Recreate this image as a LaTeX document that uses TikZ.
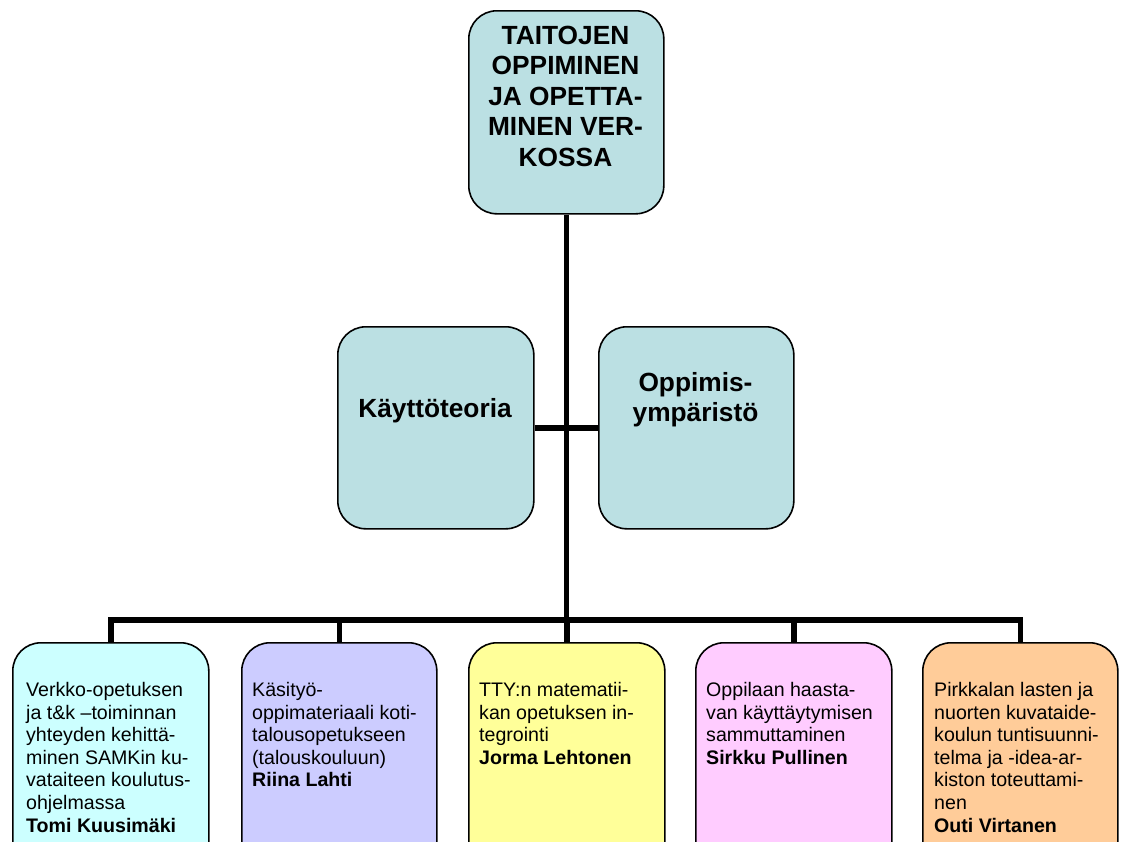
\documentclass[tikz,border=0pt]{standalone}
\usepackage{fontspec}
\setmainfont{Liberation Sans}
\definecolor{teallight}{HTML}{BBE0E3}
\definecolor{cyanlight}{HTML}{CCFFFF}
\definecolor{lavender}{HTML}{CCCCFF}
\definecolor{lemon}{HTML}{FFFF99}
\definecolor{pinklight}{HTML}{FFCCFF}
\definecolor{apricot}{HTML}{FFCC99}
\begin{document}
\begin{tikzpicture}[x=1pt,y=-1pt,
  box/.style={draw=black, line width=1.6pt, rounded corners=28pt, inner sep=0pt,
              anchor=north west},
  bigbox/.style={box, minimum width=195pt, minimum height=203pt},
  leafbox/.style={box, minimum width=196pt, minimum height=230pt},
  link/.style={line width=5.5pt, line join=miter},
  head/.style={font=\fontsize{26.3}{30.5}\selectfont\bfseries, align=center, inner sep=0pt},
  body/.style={font=\fontsize{19.6}{22.6}\selectfont, align=left, inner sep=0pt,
               anchor=north west}]
\useasboundingbox (0,0) rectangle (1121,841);
\clip (0,0) rectangle (1121,841);

% boxes
\node[bigbox, fill=teallight] (top) at (468,10) {};
\node[bigbox, fill=teallight, minimum width=196pt, minimum height=202pt] (theory) at (337,326) {};
\node[bigbox, fill=teallight, minimum width=195pt, minimum height=202pt] (env) at (598,326) {};

\node[leafbox, fill=cyanlight] (p1) at (12,642) {};
\node[leafbox, fill=lavender, minimum width=195pt] (p2) at (241,642) {};
\node[leafbox, fill=lemon] (p3) at (468,642) {};
\node[leafbox, fill=pinklight] (p4) at (695,642) {};
\node[leafbox, fill=apricot, minimum width=195pt] (p5) at (922,642) {};

% connectors
\coordinate (hub) at (top.south |- 0,620);
\draw[link] (top.south) -- (hub);
\draw[link] (theory.east) -- (env.west);
\foreach \p in {p1,p2,p3,p4,p5}
  \draw[link] (\p.north) |- (hub);

% texts
\node[head, anchor=north] (ttop) at (565.5,25.5)
  {TAITOJEN\\OPPIMINEN\\JA OPETTA-\\MINEN VER-\\KOSSA};
\node[head, anchor=base] (ttheory) at (435,417) {Käyttöteoria};
\node[head, anchor=north] (tenv) at (695.5,372) {Oppimis-\\ympäristö};

\node[body] (tp1) at (26,682)
  {Verkko-opetuksen\\ja t\&k –toiminnan\\yhteyden kehittä-\\minen SAMKin ku-\\vataiteen koulutus-\\ohjelmassa\\\textbf{Tomi Kuusimäki}};
\node[body] (tp2) at (252,682)
  {Käsityö-\\oppimateriaali koti-\\talousopetukseen\\(talouskouluun)\\\textbf{Riina Lahti}};
\node[body] (tp3) at (479,682)
  {TTY:n matematii-\\kan opetuksen in-\\tegrointi\\\textbf{Jorma Lehtonen}};
\node[body] (tp4) at (706,682)
  {Oppilaan haasta-\\van käyttäytymisen\\sammuttaminen\\\textbf{Sirkku Pullinen}};
\node[body] (tp5) at (934,682)
  {Pirkkalan lasten ja\\nuorten kuvataide-\\koulun tuntisuunni-\\telma ja -idea-ar-\\kiston toteuttami-\\nen\\\textbf{Outi Virtanen}};
\end{tikzpicture}
\end{document}
